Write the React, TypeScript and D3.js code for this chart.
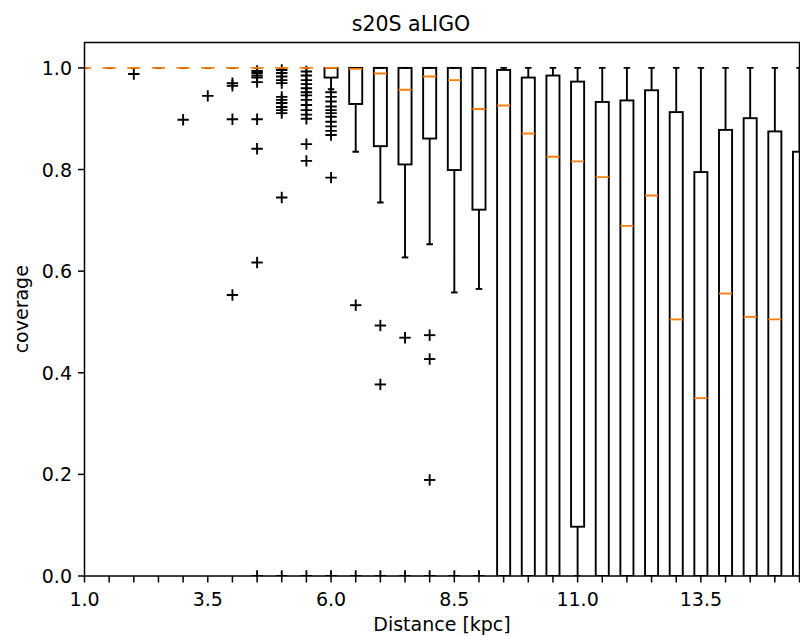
import React from "react";
import * as d3 from "d3";

const positions = [1.0, 1.5, 2.0, 2.5, 3.0, 3.5, 4.0, 4.5, 5.0, 5.5, 6.0, 6.5, 7.0, 7.5, 8.0, 8.5, 9.0, 9.5, 10.0, 10.5, 11.0, 11.5, 12.0, 12.5, 13.0, 13.5, 14.0, 14.5, 15.0, 15.5];
const q1Values = [1, 1, 1, 1, 1, 1, 1, 1, 1, 1, 0.981, 0.929, 0.846, 0.81, 0.861, 0.799, 0.721, 0, 0, 0, 0.097, 0, 0, 0, 0, 0, 0, 0, 0, 0];
const medianValues = [1, 1, 1, 1, 1, 1, 1, 1, 1, 1, 1, 0.998, 0.989, 0.957, 0.983, 0.976, 0.919, 0.926, 0.871, 0.825, 0.816, 0.785, 0.689, 0.749, 0.505, 0.35, 0.556, 0.51, 0.505, 0];
const q3Values = [1, 1, 1, 1, 1, 1, 1, 1, 1, 1, 1, 1, 1, 1, 1, 1, 1, 0.996, 0.981, 0.985, 0.973, 0.933, 0.936, 0.956, 0.913, 0.795, 0.878, 0.901, 0.875, 0.835];
const whiskerLowValues = [1, 1, 1, 1, 1, 1, 1, 1, 1, 1, 0.958, 0.835, 0.735, 0.627, 0.653, 0.558, 0.565, 0, 0, 0, 0, 0, 0, 0, 0, 0, 0, 0, 0, 0];
const whiskerHighValues = [1, 1, 1, 1, 1, 1, 1, 1, 1, 1, 1, 1, 1, 1, 1, 1, 1, 1, 1, 1, 1, 1, 1, 1, 1, 1, 1, 1, 1, 1];
const flierValues: number[][] = [
  [], [], [0.988], [], [0.898], [0.945],
  [0.97, 0.965, 0.899, 0.553],
  [0.994, 0.99, 0.985, 0.981, 0.972, 0.899, 0.841, 0.617, 0.0],
  [0.996, 0.99, 0.983, 0.976, 0.97, 0.943, 0.937, 0.931, 0.923, 0.917, 0.911, 0.745, 0.0],
  [0.993, 0.985, 0.976, 0.968, 0.96, 0.952, 0.946, 0.937, 0.927, 0.917, 0.908, 0.9, 0.85, 0.817, 0.0],
  [0.952, 0.943, 0.934, 0.924, 0.917, 0.911, 0.904, 0.894, 0.885, 0.876, 0.868, 0.784, 0.0],
  [0.533, 0.0],
  [0.493, 0.377, 0.0],
  [0.469, 0.0],
  [0.474, 0.427, 0.189, 0.0],
  [0.0],
  [0.0],
  [], [], [], [], [], [], [], [], [], [], [], [], []
];
const xTickLabels = [1.0, 3.5, 6.0, 8.5, 11.0, 13.5];
const yTickValues = [0.0, 0.2, 0.4, 0.6, 0.8, 1.0];
const titleText = "s20S aLIGO";
const xLabelText = "Distance [kpc]";
const yLabelText = "coverage";

export default function App() {
  const W = 800, H = 636;
  const left = 84.5, right = 799.5, top = 42.5, bottom = 576;
  const x = d3.scaleLinear().domain([1.0, 15.5]).range([left, right]);
  const y = d3.scaleLinear().domain([0, 1.05]).range([bottom, top]);
  const boxW = x(1.265) - x(1.0);
  const capW = boxW / 2;
  const plus = 5.7;
  const font = "DejaVu Sans, sans-serif";
  const lw = 1.9;

  return (
    <svg width={W} height={H} style={{ position: "absolute", left: 0, top: 0, background: "#fff" }} fontFamily={font}>
      <defs>
        <clipPath id="plotclip">
          <rect x={left} y={top} width={right - left} height={bottom - top} />
        </clipPath>
      </defs>
      <rect x={0} y={0} width={W} height={H} fill="#fff" />
      <g clipPath="url(#plotclip)">
        {positions.map((p, i) => {
          const cx = x(p);
          return (
            <g key={i}>
              <rect x={cx - boxW / 2} y={y(q3Values[i])} width={boxW} height={y(q1Values[i]) - y(q3Values[i])} fill="none" stroke="#000" strokeWidth={lw} />
              <line x1={cx} x2={cx} y1={y(q1Values[i])} y2={y(whiskerLowValues[i])} stroke="#000" strokeWidth={lw} />
              <line x1={cx} x2={cx} y1={y(q3Values[i])} y2={y(whiskerHighValues[i])} stroke="#000" strokeWidth={lw} />
              <line x1={cx - capW / 2} x2={cx + capW / 2} y1={y(whiskerLowValues[i])} y2={y(whiskerLowValues[i])} stroke="#000" strokeWidth={lw} />
              <line x1={cx - capW / 2} x2={cx + capW / 2} y1={y(whiskerHighValues[i])} y2={y(whiskerHighValues[i])} stroke="#000" strokeWidth={lw} />
              {flierValues[i].map((f, j) => (
                <g key={j}>
                  <line x1={cx - plus} x2={cx + plus} y1={y(f)} y2={y(f)} stroke="#000" strokeWidth={lw} />
                  <line x1={cx} x2={cx} y1={y(f) - plus} y2={y(f) + plus} stroke="#000" strokeWidth={lw} />
                </g>
              ))}
              <line x1={cx - boxW / 2} x2={cx + boxW / 2} y1={y(medianValues[i])} y2={y(medianValues[i])} stroke="#ff7f0e" strokeWidth={lw} />
            </g>
          );
        })}
      </g>
      {/* spines */}
      <rect x={left} y={top} width={right - left} height={bottom - top} fill="none" stroke="#000" strokeWidth={1.5} />
      {/* x ticks */}
      {positions.map((p, i) => (
        <line key={"xt" + i} x1={x(p)} x2={x(p)} y1={bottom} y2={bottom + 6.5} stroke="#000" strokeWidth={1.5} />
      ))}
      {xTickLabels.map((t, i) => (
        <text key={"xl" + i} x={x(t)} y={606} textAnchor="middle" fontSize={19} fill="#000">{t.toFixed(1)}</text>
      ))}
      {yTickValues.map((t, i) => (
        <g key={"yt" + i}>
          <line x1={left - 6.5} x2={left} y1={y(t)} y2={y(t)} stroke="#000" strokeWidth={1.5} />
          <text x={left - 12.5} y={y(t) + 7} textAnchor="end" fontSize={19} fill="#000">{t.toFixed(1)}</text>
        </g>
      ))}
      <text x={411} y={31} textAnchor="middle" fontSize={20.5} fill="#000">{titleText}</text>
      <text x={(left + right) / 2} y={631} textAnchor="middle" fontSize={19} fill="#000">{xLabelText}</text>
      <text transform={`translate(28, ${(top + bottom) / 2}) rotate(-90)`} textAnchor="middle" fontSize={19} fill="#000">{yLabelText}</text>
    </svg>
  );
}
